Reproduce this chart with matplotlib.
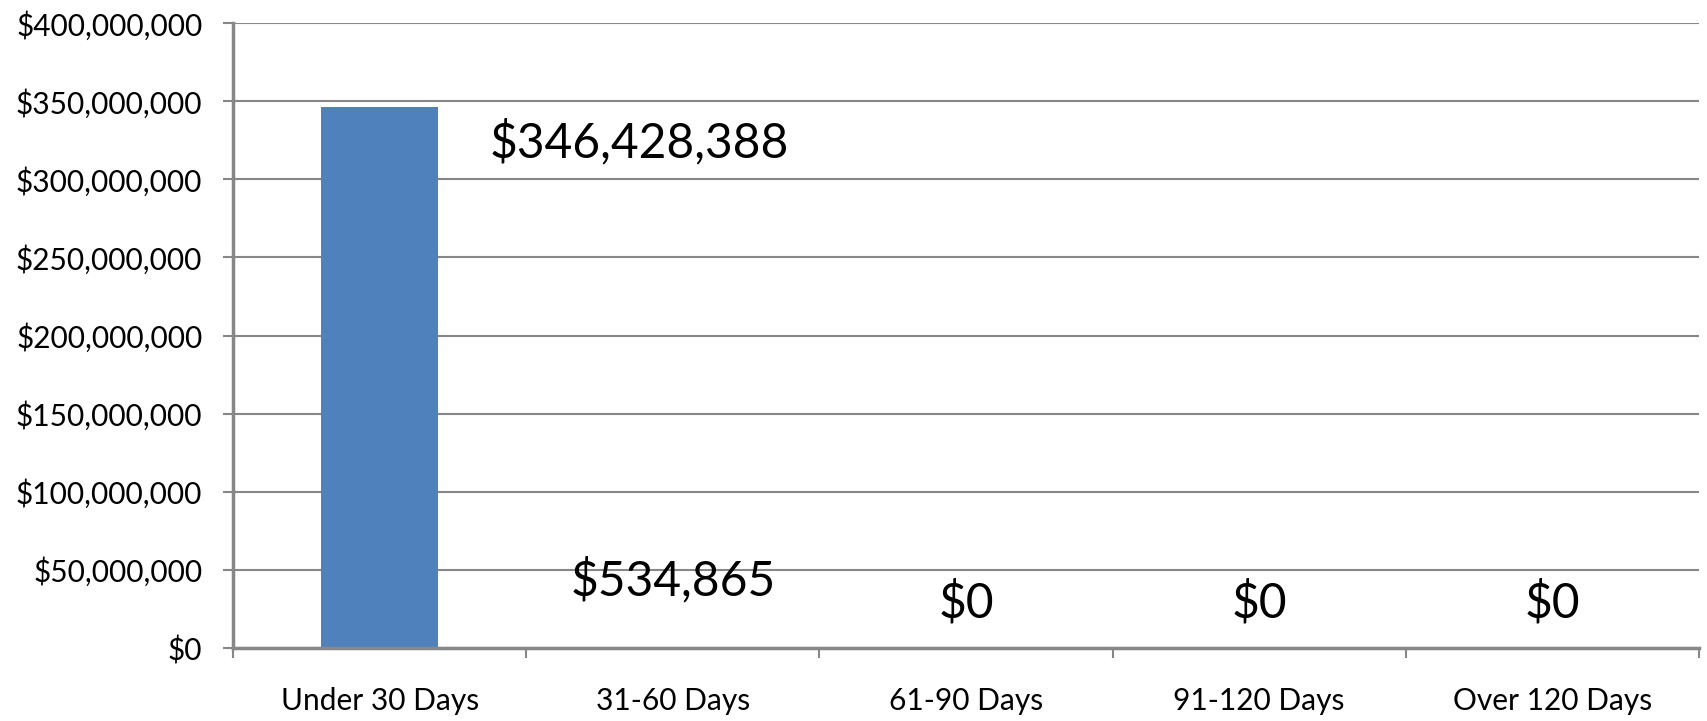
import matplotlib
matplotlib.use("Agg")
import matplotlib.pyplot as plt
from matplotlib.ticker import FuncFormatter, MultipleLocator, FixedLocator

# Receivables by age bucket
categories = ["Under 30 Days", "31-60 Days", "61-90 Days", "91-120 Days", "Over 120 Days"]
amounts = [346428388, 534865, 0, 0, 0]

# where each value label sits (category offset, height)
label_x = [0.885, 1.0, 2.0, 3.0, 4.0]
label_y = [324e6, 43.2e6, 29.3e6, 29.3e6, 29.3e6]

plt.rcParams['font.family'] = ['Lato', 'DejaVu Sans']
grid_color = "#878787"

fig = plt.figure(figsize=(17.08, 7.21), dpi=100)
ax = fig.add_axes([0.1364, 0.1012, 0.9947 - 0.1364, 0.968 - 0.1012])
ax.set_axisbelow(True)

x = list(range(len(categories)))
# bars sit under the spines so the tiny ones hide behind the axis line
ax.bar(x, amounts, width=0.4, color="#4F81BD", zorder=2)

for xi, yi, v in zip(label_x, label_y, amounts):
    ax.text(xi, yi, "${:,.0f}".format(v), ha="center", va="center",
            fontsize=34.5, color="black", zorder=4)

ax.set_xlim(-0.5, len(categories) - 0.5)
ax.set_ylim(0, 400e6)
ax.yaxis.set_major_locator(MultipleLocator(50e6))
ax.yaxis.set_major_formatter(FuncFormatter(lambda v, p: "${:,.0f}".format(v)))
ax.grid(axis="y", color=grid_color, linewidth=1.5)

# category boundaries get the ticks, names sit between them
ax.xaxis.set_major_locator(FixedLocator([i - 0.5 for i in range(len(categories) + 1)]))
ax.xaxis.set_major_formatter(FuncFormatter(lambda v, p: ""))
ax.xaxis.set_minor_locator(FixedLocator(x))
ax.set_xticklabels(categories, minor=True)
ax.tick_params(axis="x", which="major", length=7, width=1.5, color=grid_color)
ax.tick_params(axis="x", which="minor", length=0, pad=28, labelsize=21.5)
ax.tick_params(axis="y", length=7, width=1.5, color=grid_color, pad=15, labelsize=21.5)

for side in ["top", "right"]:
    ax.spines[side].set_visible(False)
for side in ["left", "bottom"]:
    ax.spines[side].set_color(grid_color)
    ax.spines[side].set_linewidth(2.5)
    ax.spines[side].set_zorder(3)

fig.savefig("out.png", dpi=100)
